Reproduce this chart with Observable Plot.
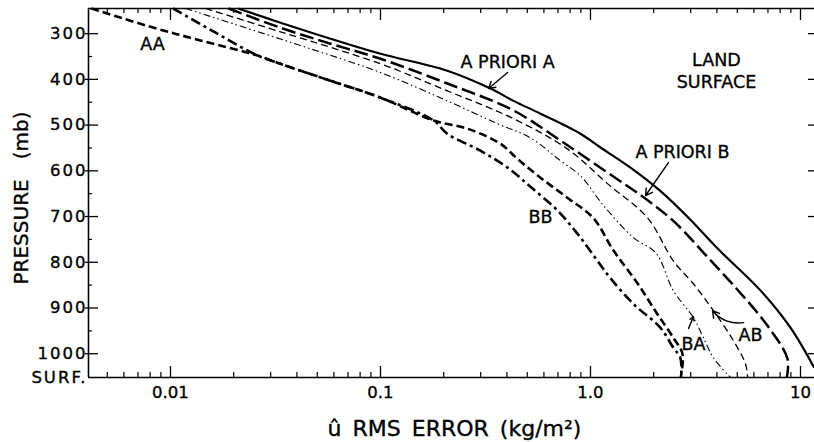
<!DOCTYPE html>
<html><head><meta charset="utf-8">
<script src="https://cdn.jsdelivr.net/npm/d3@7"></script>
<script src="https://cdn.jsdelivr.net/npm/@observablehq/plot@0.6"></script>
<style>
html,body{margin:0;padding:0;background:#fff;}
svg text{font-family:"DejaVu Sans",sans-serif;}
g[aria-label="y-axis tick label"] text{letter-spacing:2px;stroke:#000;stroke-width:0.35px;}
g[aria-label="x-axis tick label"] text{stroke:#000;stroke-width:0.35px;}
</style></head><body><div id="chart"></div>
<script>
// ---- axes ----
const xDomain = [0.00407, 11.66];
const pTop = 245;
const pSurface = 1052;
const xMajorTicks = [0.01, 0.1, 1, 10];
const xTickLabels = ["0.01", "0.1", "1.0", "10"];
const xMinorTicks = [0.005,0.006,0.007,0.008,0.009,0.02,0.03,0.04,0.05,0.06,0.07,0.08,0.09,
  0.2,0.3,0.4,0.5,0.6,0.7,0.8,0.9,2,3,4,5,6,7,8,9];
const yMajorTicks = [300,400,500,600,700,800,900,1000];
const yTickLabels = ["300","400","500","600","700","800","900","1000"];
const surfaceLabel = "SURF.";
const yMinorTicks = [350,450,550,650,750,850,950];

// ---- series (u RMS error in kg/m^2 vs pressure in mb) ----
const aprioriA_p = [245,276,311,344,381,420,447,475,519,549,593,644,707,770,862,943,1030];
const aprioriA_u = [0.021,0.0334,0.0578,0.1,0.208,0.334,0.430,0.578,0.896,1.116,1.55,2.15,2.99,4.03,6.46,8.96,11.6];

const aprioriB_p = [245,287,322,355,409,468,534,613,661,714,784,860,939,1011,1052];
const aprioriB_u = [0.0189,0.0334,0.0578,0.1,0.208,0.430,0.72,1.29,1.83,2.54,3.53,5.01,6.97,8.67,8.6];

const ab_p = [245,296,366,425,486,552,628,703,797,847,906,972,1022,1052];
const ab_u = [0.0147,0.0334,0.1,0.208,0.430,0.776,1.205,1.87,2.48,3.09,3.85,4.80,5.47,5.6];

const ba_p = [245,326,385,447,497,528,578,611,676,746,780,862,921,965,1009,1052];
const ba_u = [0.0118,0.0416,0.1,0.208,0.361,0.518,0.72,0.896,1.154,1.60,2.05,2.48,3.09,3.45,3.85,4.64];

const aa_p = [245,285,315,348,366,403,440,490,508,541,574,615,659,703,775,847,913,965,1000,1052];
const aa_u = [0.0042,0.00803,0.0139,0.026,0.0334,0.0578,0.1,0.179,0.260,0.373,0.449,0.578,0.776,1.03,1.29,1.68,2.08,2.48,2.74,2.69];

const bb_p = [245,298,348,366,403,440,490,519,556,593,635,687,746,797,834,891,943,987,1009,1052];
const bb_u = [0.0103,0.0164,0.026,0.0334,0.0578,0.1,0.179,0.208,0.299,0.403,0.518,0.697,0.896,1.08,1.24,1.60,2.15,2.48,2.68,2.70];

// ---- annotations ----
const labelText = ["AA","A PRIORI A","LAND\nSURFACE","A PRIORI B","BB","BA","AB"];
const labelU = [0.0082,0.403,3.98,2.74,0.578,3.09,5.78];
const labelP = [320,359,379,556,698,976,956];
const arrowFromU = [0.403,2.35,2.93];
const arrowFromP = [385,582,945];
const arrowToU = [0.327,1.83,3.09];
const arrowToP = [420,654,919];
const abArrow = {fromU:5.36, fromP:932, toU:3.81, toP:906};
const yTitle = "PRESSURE\u2003(mb)";
const xTitle = "û\u2002RMS\u2002ERROR\u2002(kg/m²)";

const toRows = (u, p) => u.map((v, i) => ({u: v, p: p[i]}));
const series = [
  {rows: toRows(aprioriA_u, aprioriA_p), w: 2.2, dash: null},
  {rows: toRows(aprioriB_u, aprioriB_p), w: 2.5, dash: "14,5"},
  {rows: toRows(ab_u, ab_p), w: 1.3, dash: "7,4"},
  {rows: toRows(ba_u, ba_p), w: 1.1, dash: "7,3,1.5,3,1.5,3"},
  {rows: toRows(aa_u, aa_p), w: 2.6, dash: "8,4"},
  {rows: toRows(bb_u, bb_p), w: 2.6, dash: "10,4,3,4"}
];
const labels = labelText.map((t, i) => ({t, u: labelU[i], p: labelP[i]}));
const arrows = arrowFromU.map((v, i) => ({u1: v, p1: arrowFromP[i], u2: arrowToU[i], p2: arrowToP[i]}));
const xLabelMap = new Map(xMajorTicks.map((d, i) => [d, xTickLabels[i]]));
const yLabelMap = new Map(yMajorTicks.map((d, i) => [d, yTickLabels[i]]));
yLabelMap.set(pSurface, surfaceLabel);

const W = 814, H = 442, mL = 88, mR = 0, mT = 8, mB = 65;
const fw = W - mL - mR, fh = H - mT - mB;

const chart = Plot.plot({
  width: W, height: H,
  marginLeft: mL, marginRight: mR, marginTop: mT, marginBottom: mB,
  style: {fontFamily: "DejaVu Sans, sans-serif", background: "#fff", color: "#000", overflow: "visible"},
  x: {type: "log", domain: xDomain, axis: null},
  y: {domain: [pSurface, pTop], axis: null},
  marks: [
    // frame (left, top, bottom)
    Plot.ruleX([xDomain[0]], {stroke: "#000", strokeWidth: 1.6}),
    Plot.ruleY([pTop], {stroke: "#000", strokeWidth: 1.6}),
    Plot.ruleY([pSurface], {stroke: "#000", strokeWidth: 1.6}),
    // x ticks bottom (inward)
    Plot.ruleX(xMajorTicks, {stroke: "#000", strokeWidth: 1.3, insetTop: fh - 11}),
    Plot.ruleX(xMinorTicks, {stroke: "#000", strokeWidth: 1.2, insetTop: fh - 5}),
    // x ticks top (inward)
    Plot.ruleX(xMajorTicks, {stroke: "#000", strokeWidth: 1.3, insetBottom: fh - 12}),
    Plot.ruleX(xMinorTicks, {stroke: "#000", strokeWidth: 1.2, insetBottom: fh - 5}),
    // y ticks left
    Plot.ruleY(yMajorTicks, {stroke: "#000", strokeWidth: 1.3, insetLeft: -3, insetRight: fw - 10}),
    Plot.ruleY(yMinorTicks, {stroke: "#000", strokeWidth: 1.2, insetRight: fw - 4}),
    // y ticks right
    Plot.ruleY(yMajorTicks, {stroke: "#000", strokeWidth: 1.3, insetLeft: fw - 6}),
    // curves
    ...series.map(s => Plot.line(s.rows, {x: "u", y: "p", stroke: "#000", strokeWidth: s.w,
      strokeDasharray: s.dash, curve: "catmull-rom", strokeLinecap: "butt"})),
    // labels
    Plot.text(labels, {x: "u", y: "p", text: "t", fontSize: 17.5, fill: "#000", stroke: "#000", strokeWidth: 0.35,
      lineHeight: 1.25, textAnchor: "middle", lineAnchor: "middle", style: "letter-spacing:2px"}),
    Plot.arrow(arrows, {x1: "u1", y1: "p1", x2: "u2", y2: "p2", stroke: "#000", strokeWidth: 1.4, headLength: 8}),
    Plot.arrow([abArrow], {x1: "fromU", y1: "fromP", x2: "toU", y2: "toP", bend: 30, stroke: "#000", strokeWidth: 1.4, headLength: 8}),
    // axes tick labels
    Plot.axisX(xMajorTicks, {anchor: "bottom", tickSize: 0, tickPadding: 9, fontSize: 16.5,
      tickFormat: d => xLabelMap.get(d), fill: "#000"}),
    Plot.axisY([...yMajorTicks, pSurface], {anchor: "left", tickSize: 0, tickPadding: 1, fontSize: 16.5,
      tickFormat: d => yLabelMap.get(d), fill: "#000"}),
    // axis titles
    Plot.text([yTitle], {frameAnchor: "left", text: d => d, dx: -67, dy: 5, rotate: -90,
      fontSize: 20, fill: "#000", stroke: "#000", strokeWidth: 0.35, textAnchor: "middle", lineAnchor: "middle",
      style: "letter-spacing:0.5px"}),
    Plot.text([xTitle], {frameAnchor: "bottom", text: d => d, dy: 51, dx: 3,
      fontSize: 22, fill: "#000", stroke: "#000", strokeWidth: 0.35, textAnchor: "middle", lineAnchor: "middle",
      style: "letter-spacing:1px"})
  ]
});
document.getElementById("chart").appendChild(chart);
</script></body></html>
